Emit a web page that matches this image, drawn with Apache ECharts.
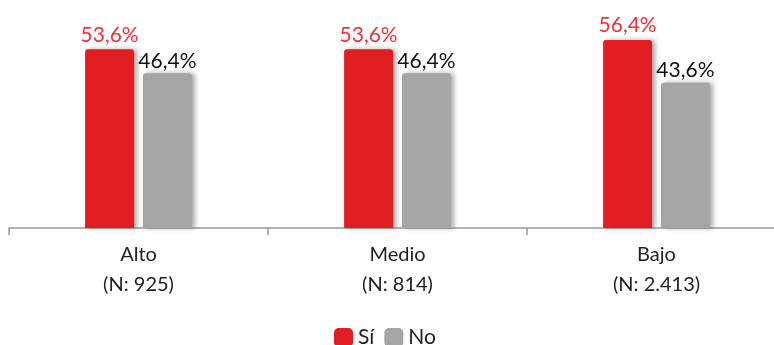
<!DOCTYPE html>
<html><head><meta charset="utf-8">
<style>html,body{margin:0;padding:0;background:#fff;overflow:hidden;width:774px;height:345px}#c{width:790px;height:345px}</style>
<script src="https://cdn.jsdelivr.net/npm/echarts@6/dist/echarts.min.js"></script>
</head><body><div id="c"></div>
<script>
var categories = ['Alto\n(N: 925)', 'Medio\n(N: 814)', 'Bajo\n(N: 2.413)'];
var si = [53.6, 53.6, 56.4];
var no = [46.4, 46.4, 43.6];
var seriesNames = ['Sí', 'No'];
var FONT = 'Lato';
var fmt = function(p){ return p.value.toFixed(1).replace('.', ',') + '%'; };
var chart = echarts.init(document.getElementById('c'), null, {renderer:'canvas'});
chart.setOption({
  animation:false,
  textStyle:{fontFamily:FONT},
  grid:{left:9, top:28, width:777, height:200, containLabel:false},
  legend:{top:322, left:329, itemWidth:19, itemHeight:19, itemGap:10,
    icon:'roundRect',
    textStyle:{fontSize:21, color:'#222', fontFamily:FONT}, data:seriesNames},
  xAxis:{type:'category', data:categories,
    axisLine:{lineStyle:{color:'#999', width:1.5}},
    axisTick:{show:true, length:7, lineStyle:{color:'#999', width:1.5}},
    axisLabel:{fontSize:20, color:'#222', lineHeight:30, margin:12, fontFamily:FONT}},
  yAxis:{type:'value', min:0, max:60, show:false, splitLine:{show:false}},
  series:[
    {name:seriesNames[0], type:'bar', data:si, barWidth:49, barGap:'18%',
     itemStyle:{color:'#e11d22', borderRadius:[3,3,0,0], shadowColor:'rgba(0,0,0,0.35)', shadowBlur:5, shadowOffsetX:3, shadowOffsetY:0},
     label:{show:true, position:'top', distance:4, color:'#e8343a', fontSize:21, fontFamily:FONT, formatter:fmt}},
    {name:seriesNames[1], type:'bar', data:no, barWidth:49,
     itemStyle:{color:'#a5a5a5', borderRadius:[3,3,0,0], shadowColor:'rgba(0,0,0,0.35)', shadowBlur:5, shadowOffsetX:3, shadowOffsetY:0},
     label:{show:true, position:'top', distance:2, color:'#111', fontSize:21, fontFamily:FONT, formatter:fmt}}
  ]
});
</script></body></html>
